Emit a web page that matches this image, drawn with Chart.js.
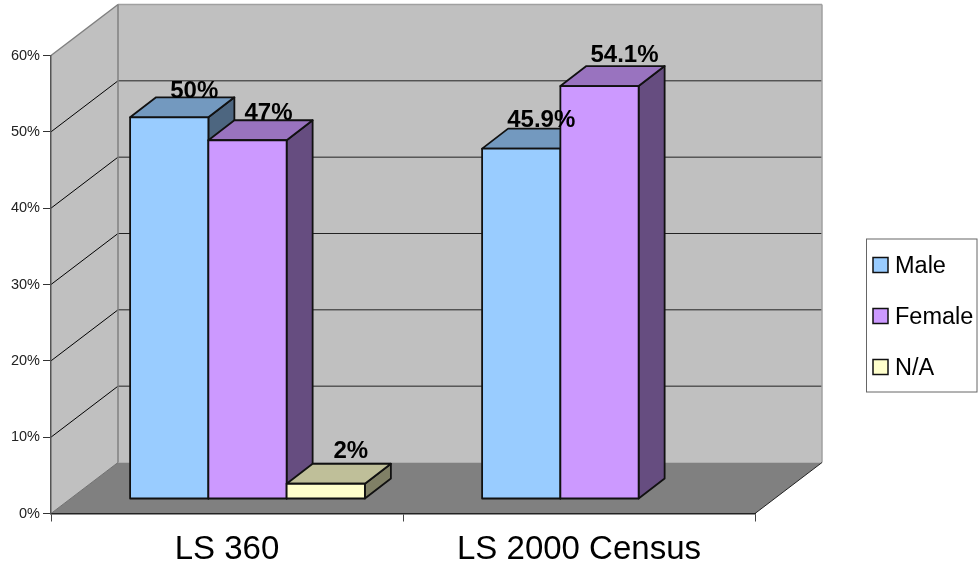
<!DOCTYPE html>
<html>
<head>
    <title>LS 360 vs LS 2000 Census</title>
    <script src="https://cdn.jsdelivr.net/npm/chart.js"></script>
    <style>
        html, body { margin: 0; padding: 0; background: #fff; }
        canvas { display: block; }
    </style>
</head>
<body>
    <canvas id="myChart" width="978" height="569"></canvas>

    <script>
        const categories = ['LS 360', 'LS 2000 Census'];
        const male = [50, 45.9];
        const female = [47, 54.1];
        const notAvailable = [2, null];
        const seriesNames = ['Male', 'Female', 'N/A'];
        const seriesColors = ['#99CCFF', '#CC99FF', '#FFFFCC'];

        const FONT = '"Liberation Sans", Arial, sans-serif';
        // depth of the back wall and of the boxes, in pixels
        const WALL = { dx: 67, dy: -51 };
        const BOX = { dx: 26, dy: -20 };
        const BOX_OFFSET = { dx: 20.5, dy: -14.5 };
        // the labels do not sit evenly on the boxes in the original: [series][category] -> [dx, dy]
        const LABEL_NUDGE = [
            [[25, 1], [20, -1.5]],
            [[21, 0], [25, -4]],
            [[25, -6], [0, 0]]
        ];

        function shade(hex, k) {
            const n = parseInt(hex.slice(1), 16);
            const r = Math.round((n >> 16 & 255) * k);
            const g = Math.round((n >> 8 & 255) * k);
            const b = Math.round((n & 255) * k);
            return 'rgb(' + r + ',' + g + ',' + b + ')';
        }

        function poly(ctx, pts, fill, stroke, width) {
            ctx.beginPath();
            pts.forEach((p, i) => i ? ctx.lineTo(p[0], p[1]) : ctx.moveTo(p[0], p[1]));
            ctx.closePath();
            if (fill) { ctx.fillStyle = fill; ctx.fill(); }
            if (stroke) { ctx.strokeStyle = stroke; ctx.lineWidth = width; ctx.stroke(); }
        }

        function line(ctx, x1, y1, x2, y2, color, width) {
            ctx.beginPath();
            ctx.moveTo(x1, y1);
            ctx.lineTo(x2, y2);
            ctx.strokeStyle = color;
            ctx.lineWidth = width;
            ctx.stroke();
        }

        // walls, floor and gridlines go under the axes
        const roomPlugin = {
            id: 'room',
            beforeDraw(chart) {
                const ctx = chart.ctx;
                const { left, right, top, bottom } = chart.chartArea;
                const d = WALL;
                ctx.save();
                poly(ctx, [[left, bottom], [left + d.dx, bottom + d.dy], [left + d.dx, top + d.dy], [left, top]], '#C0C0C0');
                poly(ctx, [[left + d.dx, bottom + d.dy], [right + d.dx, bottom + d.dy], [right + d.dx, top + d.dy], [left + d.dx, top + d.dy]], '#C0C0C0');
                poly(ctx, [[left, bottom], [right, bottom], [right + d.dx, bottom + d.dy], [left + d.dx, bottom + d.dy]], '#808080');

                chart.scales.y.ticks.forEach(t => {
                    const y = chart.scales.y.getPixelForValue(t.value);
                    if (t.value === 0 || t.value === 60) return;
                    line(ctx, left, y, left + d.dx, y + d.dy, '#000', 1);
                    line(ctx, left + d.dx, y + d.dy, right + d.dx, y + d.dy, '#222', 1);
                });

                line(ctx, left, top, left + d.dx, top + d.dy, '#808080', 1.5);
                line(ctx, left + d.dx, top + d.dy, right + d.dx, top + d.dy, '#A0A0A0', 1.5);
                line(ctx, left + d.dx, top + d.dy, left + d.dx, bottom + d.dy, '#808080', 1.5);
                line(ctx, right + d.dx, top + d.dy, right + d.dx, bottom + d.dy, '#A0A0A0', 1.5);
                line(ctx, left, bottom, left + d.dx, bottom + d.dy, '#707070', 1);
                line(ctx, right, bottom, right + d.dx, bottom + d.dy, '#222', 1);
                ctx.restore();
            }
        };

        // boxes are built from the bar elements the library has laid out
        const boxPlugin = {
            id: 'box',
            afterDatasetsDraw(chart) {
                const ctx = chart.ctx;
                const labels = [];
                ctx.save();
                ctx.lineJoin = 'round';
                chart.data.datasets.forEach((ds, i) => {
                    const color = seriesColors[i];
                    chart.getDatasetMeta(i).data.forEach((bar, j) => {
                        const value = ds.data[j];
                        if (value === null) return;
                        const x1 = bar.x - bar.width / 2 + BOX_OFFSET.dx;
                        const x2 = bar.x + bar.width / 2 + BOX_OFFSET.dx;
                        const yTop = bar.y + BOX_OFFSET.dy;
                        const yBase = bar.base + BOX_OFFSET.dy;
                        const dx = BOX.dx, dy = BOX.dy;
                        poly(ctx, [[x2, yTop], [x2 + dx, yTop + dy], [x2 + dx, yBase + dy], [x2, yBase]], shade(color, 0.5), '#111', 1.8);
                        poly(ctx, [[x1, yTop], [x1 + dx, yTop + dy], [x2 + dx, yTop + dy], [x2, yTop]], shade(color, 0.75), '#111', 1.8);
                        poly(ctx, [[x1, yTop], [x2, yTop], [x2, yBase], [x1, yBase]], color, '#111', 1.8);
                        const nudge = LABEL_NUDGE[i][j];
                        labels.push([value + '%', (x1 + x2) / 2 + nudge[0], yTop + dy + nudge[1]]);
                    });
                });

                ctx.fillStyle = '#000';
                ctx.font = 'bold 24px ' + FONT;
                ctx.textAlign = 'center';
                ctx.textBaseline = 'alphabetic';
                labels.forEach(l => ctx.fillText(l[0], l[1], l[2]));
                ctx.restore();
            }
        };

        const legendPlugin = {
            id: 'boxedLegend',
            afterDraw(chart) {
                const ctx = chart.ctx;
                ctx.save();
                ctx.fillStyle = '#fff';
                ctx.fillRect(866.5, 239, 110.5, 153);
                ctx.strokeStyle = '#666';
                ctx.lineWidth = 1;
                ctx.strokeRect(866.5, 239, 110.5, 153);
                ctx.font = '23.5px ' + FONT;
                ctx.textAlign = 'left';
                ctx.textBaseline = 'middle';
                seriesNames.forEach((name, i) => {
                    const y = 265 + i * 51;
                    ctx.fillStyle = seriesColors[i];
                    ctx.fillRect(873, y - 7.5, 15, 15);
                    ctx.strokeStyle = '#111';
                    ctx.lineWidth = 1.5;
                    ctx.strokeRect(873, y - 7.5, 15, 15);
                    ctx.fillStyle = '#000';
                    ctx.fillText(name, 895, y + 2);
                });
                ctx.restore();
            }
        };

        const values = [male, female, notAvailable];

        new Chart(document.getElementById('myChart').getContext('2d'), {
            type: 'bar',
            data: {
                labels: categories,
                datasets: seriesNames.map((name, i) => ({
                    label: name,
                    data: values[i],
                    backgroundColor: 'transparent',
                    borderWidth: 0,
                    categoryPercentage: 0.667,
                    barPercentage: 1
                }))
            },
            options: {
                responsive: false,
                animation: false,
                events: [],
                layout: { padding: { top: 55.5, right: 223, left: 0, bottom: 0 } },
                plugins: { legend: { display: false }, tooltip: { enabled: false } },
                scales: {
                    x: {
                        afterFit(scale) { scale.height = 55.5; },
                        border: { color: '#222', width: 1.5 },
                        grid: { drawOnChartArea: false, tickLength: 8, tickColor: '#444' },
                        ticks: { color: '#000', padding: 9, maxRotation: 0, font: { family: FONT, size: 33 } }
                    },
                    y: {
                        min: 0,
                        max: 60,
                        afterFit(scale) { scale.width = 51; },
                        border: { color: '#555', width: 1.5 },
                        grid: { drawOnChartArea: false, tickLength: 8, tickColor: '#333' },
                        ticks: {
                            stepSize: 10,
                            color: '#222',
                            padding: 3,
                            font: { family: FONT, size: 14.5 },
                            callback: v => v + '%'
                        }
                    }
                }
            },
            plugins: [roomPlugin, boxPlugin, legendPlugin]
        });
    </script>
</body>
</html>
